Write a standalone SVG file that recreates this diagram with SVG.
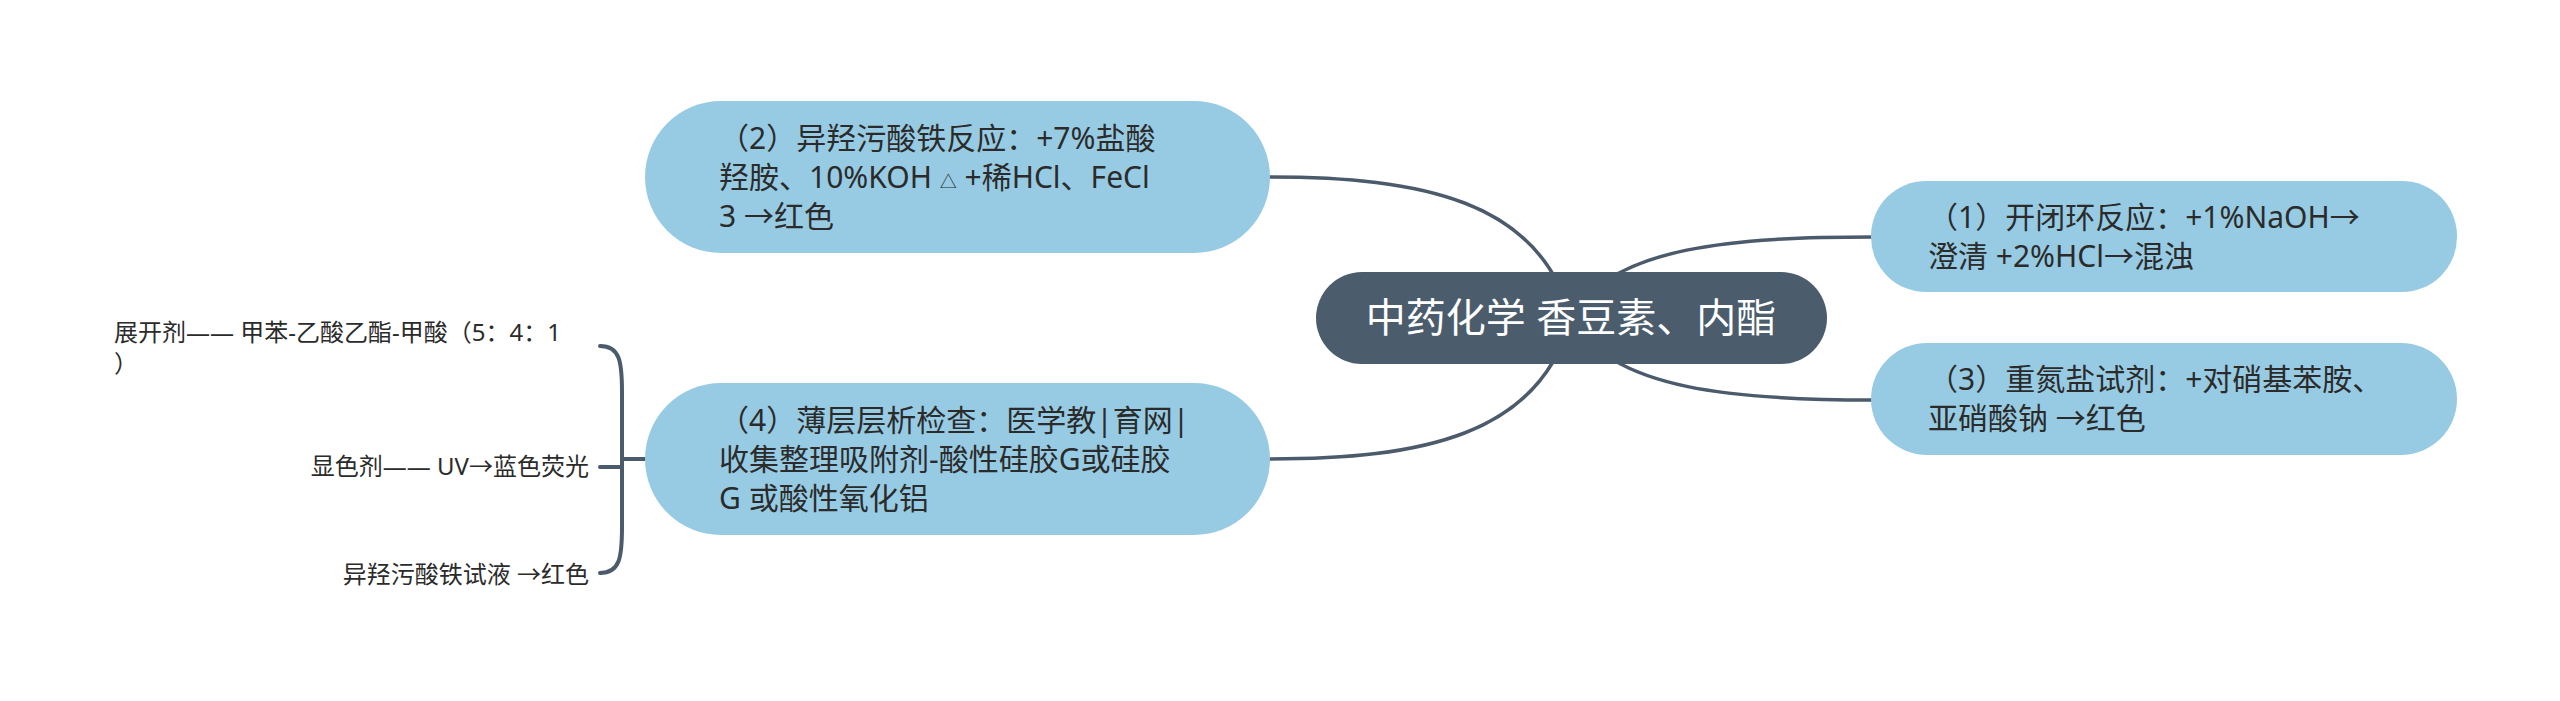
<svg xmlns="http://www.w3.org/2000/svg" width="2560" height="701" viewBox="0 0 2560 701">
<style>
.bg{fill:#ffffff}
.link{fill:none;stroke:#4b5b6b;stroke-width:3.5;stroke-linecap:round}
.brk{fill:none;stroke:#4b5b6b;stroke-width:4;stroke-linecap:round}
.sub{fill:#97cbe3}
.root{fill:#4b5c6c}
.t{font-family:"Noto Sans","Noto Sans CJK SC",sans-serif;font-size:30px;fill:#2b2b2b}
.rt{font-family:"Noto Sans","Noto Sans CJK SC",sans-serif;font-size:40px;fill:#ffffff}
.lf{font-family:"Noto Sans","Noto Sans CJK SC",sans-serif;font-size:24px;fill:#2b2b2b}
</style>
<rect class="bg" x="0" y="0" width="2560" height="701"/>
<g id="connectors">
<path class="link" d="M1571,318 C1540,200 1420,177 1270,177"/>
<path class="link" d="M1571,318 C1540,436 1420,459 1270,459"/>
<path class="link" d="M1571,318 C1610,245 1740,237 1873,237"/>
<path class="link" d="M1571,318 C1610,391 1740,400 1873,400"/>
<path class="brk" d="M600,346 C620,346 622,362 622,392 L622,527 C622,557 620,573 600,573"/>
<path class="brk" d="M622,459 H645"/>
<path class="brk" d="M600,467 H622"/>
</g>
<g id="root">
<rect class="root" x="1316" y="272" width="511" height="92" rx="46"/>
<text class="rt" x="1571" y="332" text-anchor="middle">中药化学 香豆素、内酯</text>
</g>
<g id="node2">
<rect class="sub" x="645" y="101" width="625" height="152" rx="76"/>
<text class="t"><tspan x="719" y="149">（2）异羟污酸铁反应：+7%盐酸</tspan><tspan x="719" y="188">羟胺、10%KOH <tspan font-size="17">△</tspan> +稀HCl、FeCl</tspan><tspan x="719" y="227">3 →红色</tspan></text>
</g>
<g id="node4">
<rect class="sub" x="645" y="383" width="625" height="152" rx="76"/>
<text class="t"><tspan x="719" y="431">（4）薄层层析检查：医学教|育网|</tspan><tspan x="719" y="470">收集整理吸附剂-酸性硅胶G或硅胶</tspan><tspan x="719" y="509">G 或酸性氧化铝</tspan></text>
</g>
<g id="node1">
<rect class="sub" x="1871" y="181" width="586" height="111" rx="55"/>
<text class="t"><tspan x="1928" y="228">（1）开闭环反应：+1%NaOH→</tspan><tspan x="1928" y="267">澄清 +2%HCl→混浊</tspan></text>
</g>
<g id="node3">
<rect class="sub" x="1871" y="343" width="586" height="112" rx="56"/>
<text class="t"><tspan x="1928" y="390">（3）重氮盐试剂：+对硝基苯胺、</tspan><tspan x="1928" y="429">亚硝酸钠 →红色</tspan></text>
</g>
<g id="leaf1">
<text class="lf"><tspan x="114" y="341">展开剂—— 甲苯-乙酸乙酯-甲酸（5：4：1</tspan><tspan x="114" y="372">）</tspan></text>
</g>
<g id="leaf2">
<text class="lf" x="589" y="475" text-anchor="end">显色剂—— UV→蓝色荧光</text>
</g>
<g id="leaf3">
<text class="lf" x="589" y="583" text-anchor="end">异羟污酸铁试液 →红色</text>
</g>
</svg>
